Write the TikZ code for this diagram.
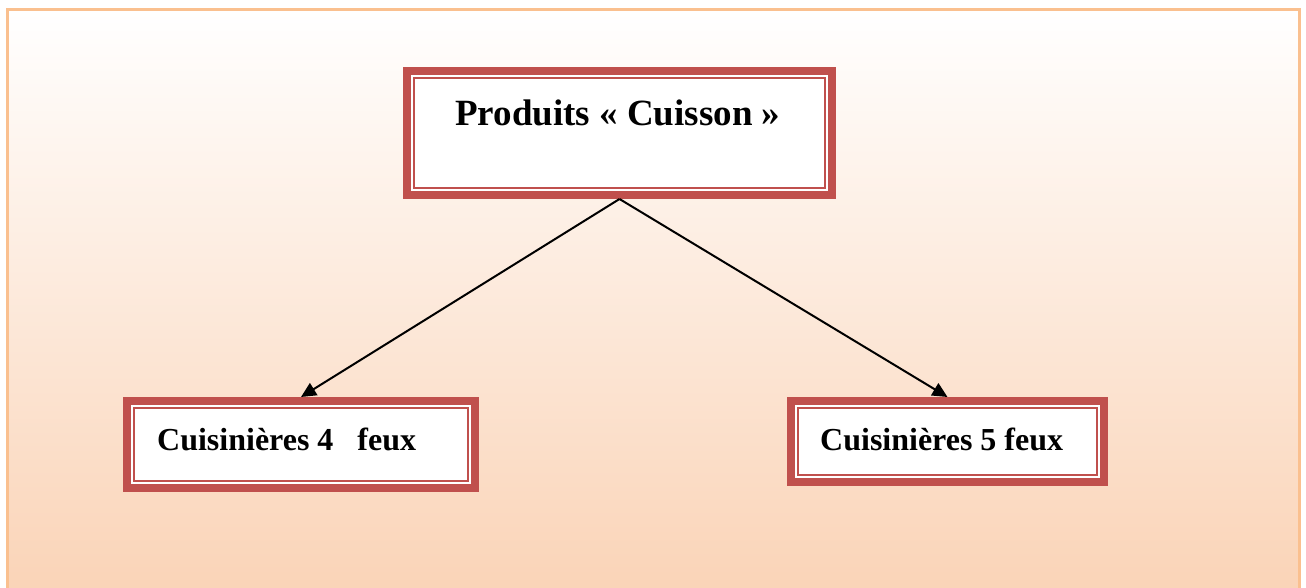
\documentclass[tikz,border=0pt]{standalone}
\usepackage{fontspec}
\setmainfont{Liberation Serif}
\usetikzlibrary{arrows.meta}
\definecolor{framepeach}{HTML}{FAC08F}
\definecolor{fillpeach}{HTML}{FAD3B6}
\definecolor{boxred}{HTML}{C0504D}
\tikzset{
  redbox/.style={draw=boxred, line width=8pt, fill=white, inner sep=0pt},
  thinline/.style={draw=boxred, line width=2pt},
  boxtext/.style={inner sep=0pt, anchor=base west, font=\bfseries\fontsize{32}{36}\selectfont},
  link/.style={line width=2pt, -{Triangle[length=15pt,width=14pt]}},
}
\newcommand{\innerline}[1]{\draw[thinline] ([shift={(11,11)}]#1.north west) rectangle ([shift={(-11,-11)}]#1.south east);}
\begin{document}
\begin{tikzpicture}[x=1pt,y=-1pt]
  \useasboundingbox (0,0) rectangle (1306,588);
  \begin{scope}
    \clip (0,0) rectangle (1306,588);
    \shade[top color=white, bottom color=fillpeach] (7,10) rectangle (1299,600);
    \draw[framepeach, line width=3pt] (7,10) rectangle (1299,600);
  \end{scope}

  % parent box
  \node[redbox, minimum width=425pt, minimum height=124pt] (top) at (619.5,133) {};
  \innerline{top}
  \node[boxtext, font=\bfseries\fontsize{37}{40}\selectfont] (toptext) at (455,126) {Produits « Cuisson »};

  % child boxes
  \node[redbox, minimum width=348pt, minimum height=87pt] (left) at (301,444.5) {};
  \innerline{left}
  \node[boxtext] (lefttext) at (157,450) {Cuisinières 4\ \ \ feux};

  \node[redbox, minimum width=313pt, minimum height=81pt] (right) at (947.5,441.5) {};
  \innerline{right}
  \node[boxtext] (righttext) at (820,450) {Cuisinières 5 feux};

  % connectors
  \draw[link] (top.south) -- (left.north);
  \draw[link] (top.south) -- (right.north);
\end{tikzpicture}
\end{document}
